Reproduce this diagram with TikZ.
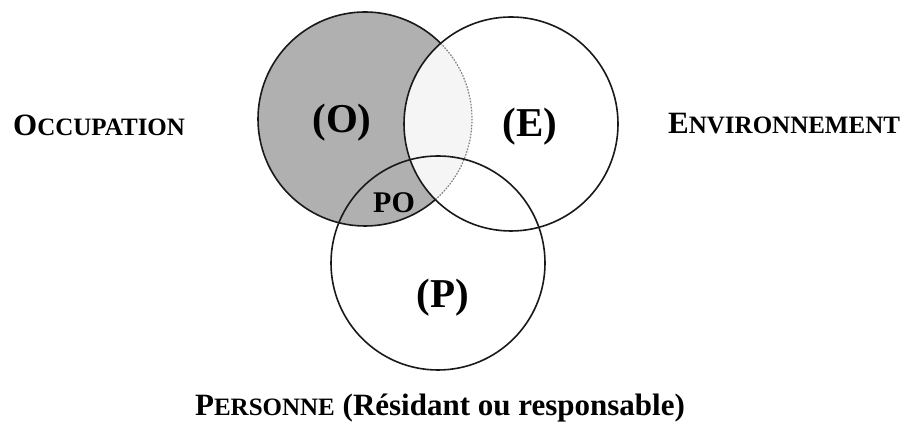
\documentclass[tikz,border=0pt]{standalone}
\usepackage{fontspec}
\setmainfont{Liberation Serif}
\newcommand{\fauxsc}[2]{{\fontsize{31}{31}\selectfont #1}{\fontsize{25}{25}\selectfont #2}}
\begin{document}
\begin{tikzpicture}[x=1pt,y=1pt,
  ring/.style={line width=1.6pt, draw=black!90},
  setlabel/.style={inner sep=0pt, anchor=base, font=\bfseries\fontsize{41}{41}\selectfont},
  sidelabel/.style={inner sep=0pt, font=\bfseries},
  shade/.style={fill=black!31},
  overlap/.style={fill=black!4}]
  \useasboundingbox (0,0) rectangle (904,427);
  \def\R{107}
  \coordinate (o) at (365,308);
  \coordinate (e) at (511,303);
  \coordinate (p) at (438,164);

  % shaded occupation set, lighter where it meets the environment
  \fill[shade] (o) circle (\R);
  \begin{scope}
    \clip (o) circle (\R);
    \fill[overlap] (e) circle (\R);
  \end{scope}

  % outline of O: solid outside E, faint dotted inside E
  \draw[ring] (o) ++(45:\R) arc[start angle=45, end angle=311.1, radius=\R];
  \draw[line width=1.2pt, draw=black!50, dash pattern=on 1.5pt off 1.5pt]
    (o) ++(-48.9:\R) arc[start angle=-48.9, end angle=45, radius=\R];

  % environment and person sets
  \draw[ring] (e) circle (\R);
  \draw[ring] (p) circle (\R);

  % set labels
  \node[setlabel] (lo) at (342,294) {(O)};
  \node[setlabel] (le) at (530,290) {(E)};
  \node[setlabel] (lp) at (443,119) {(P)};
  \node[setlabel, font=\bfseries\fontsize{30}{30}\selectfont] (lpo) at (394,214) {PO};

  % outer captions
  \node[sidelabel, anchor=base west] (occ) at (13,291) {\fauxsc{O}{CCUPATION}};
  \node[sidelabel, anchor=base west] (env) at (668,293) {\fauxsc{E}{NVIRONNEMENT}};
  \node[sidelabel, anchor=base] (per) at (440,11)
    {\fauxsc{P}{ERSONNE}{\fontsize{31}{31}\selectfont\ (Résidant ou responsable)}};
\end{tikzpicture}
\end{document}
